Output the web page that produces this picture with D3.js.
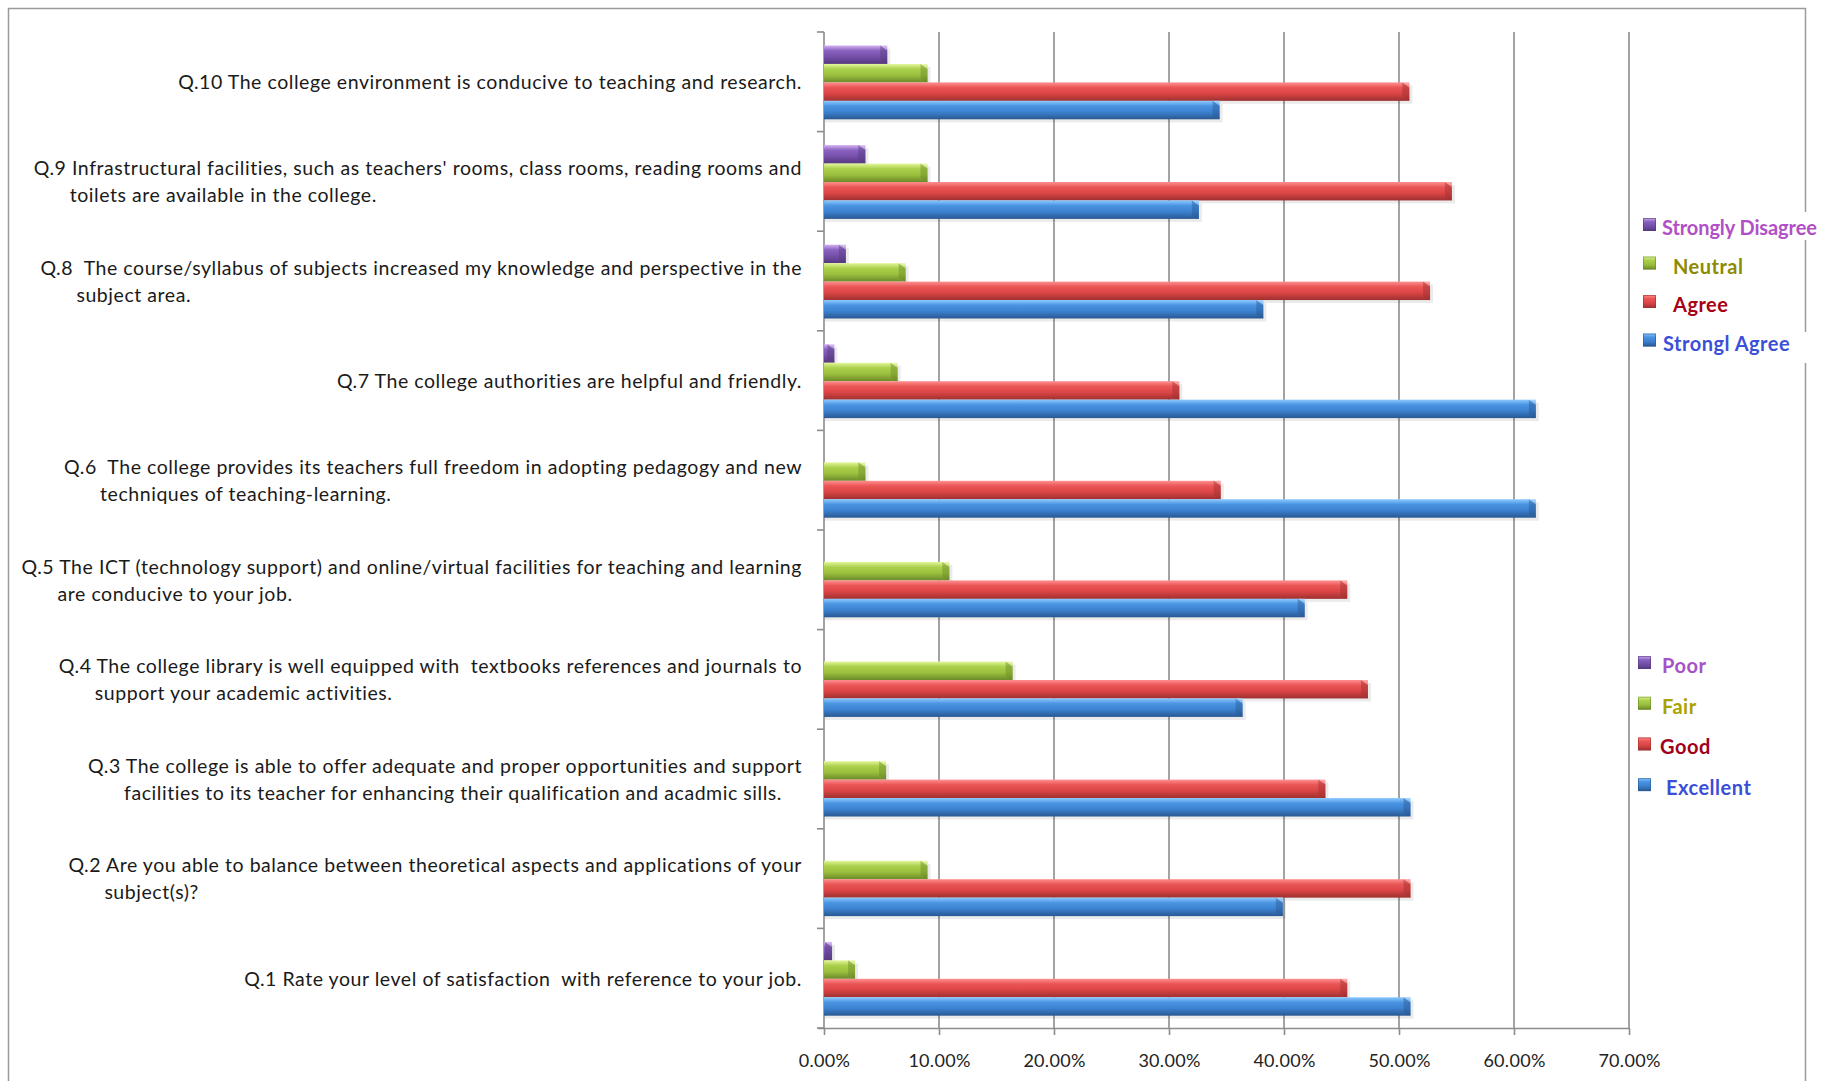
<!DOCTYPE html>
<html><head><meta charset="utf-8">
<script src="https://cdn.jsdelivr.net/npm/d3@7"></script>
<style>body{margin:0;background:#fff} svg{display:block}</style>
</head><body>
<svg id="chart" width="1822" height="1081"></svg>
<script>
// ---------- data ----------
const questions = [
  "Q.1 Rate your level of satisfaction  with reference to your job.",
  "Q.2 Are you able to balance between theoretical aspects and applications of your|subject(s)?",
  "Q.3 The college is able to offer adequate and proper opportunities and support|facilities to its teacher for enhancing their qualification and acadmic sills.",
  "Q.4 The college library is well equipped with  textbooks references and journals to|support your academic activities.",
  "Q.5 The ICT (technology support) and online/virtual facilities for teaching and learning|are conducive to your job.",
  "Q.6  The college provides its teachers full freedom in adopting pedagogy and new|techniques of teaching-learning.",
  "Q.7 The college authorities are helpful and friendly.",
  "Q.8  The course/syllabus of subjects increased my knowledge and perspective in the|subject area.",
  "Q.9 Infrastructural facilities, such as teachers' rooms, class rooms, reading rooms and|toilets are available in the college.",
  "Q.10 The college environment is conducive to teaching and research."
];
const seriesNames = ["Strongly Disagree", "Neutral", "Agree", "Strongl Agree"];
const ratingNames = ["Poor", "Fair", "Good", "Excellent"];
const stronglyDisagree = [0.7, 0, 0, 0, 0, 0, 0.9, 1.9, 3.6, 5.5];
const neutral          = [2.7, 9.0, 5.4, 16.4, 10.9, 3.6, 6.4, 7.1, 9.0, 9.0];
const agree            = [45.5, 51.0, 43.6, 47.3, 45.5, 34.5, 30.9, 52.7, 54.6, 50.9];
const stronglyAgree    = [51.0, 39.9, 51.0, 36.4, 41.8, 61.9, 61.9, 38.2, 32.6, 34.4];
const xTicks = [0, 10, 20, 30, 40, 50, 60, 70];

// ---------- styles ----------
const seriesValues = [stronglyDisagree, neutral, agree, stronglyAgree];
const grad = [
  ["#d2b0f2", "#8a62c0", "#7650ab", "#55397e"],
  ["#e4f79a", "#aad04c", "#9cc03e", "#6b8a29"],
  ["#ff9090", "#ea5555", "#dc4545", "#9e3030"],
  ["#8ccaff", "#4a94e2", "#3c82d0", "#2a5892"]
];
const topLegendColors = ["#b150c6", "#8e8a00", "#a80014", "#3b4fd8"];
const botLegendColors = ["#a552c8", "#a9a200", "#a0001a", "#3a4ed8"];

const svg = d3.select("#chart");
svg.append("rect").attr("width", 1822).attr("height", 1081).attr("fill", "#fff");

const defs = svg.append("defs");
grad.forEach((g, i) => {
  const lg = defs.append("linearGradient").attr("id", "g" + i)
    .attr("x1", 0).attr("y1", 0).attr("x2", 0).attr("y2", 1);
  lg.append("stop").attr("offset", "0%").attr("stop-color", g[0]);
  lg.append("stop").attr("offset", "28%").attr("stop-color", g[1]);
  lg.append("stop").attr("offset", "60%").attr("stop-color", g[2]);
  lg.append("stop").attr("offset", "100%").attr("stop-color", g[3]);
});

// outer chart border
svg.append("rect").attr("x", 8.5).attr("y", 8.5).attr("width", 1797).attr("height", 1110)
  .attr("fill", "none").attr("stroke", "#9a9a9a").attr("stroke-width", 1.5);

// ---------- scales ----------
const x = d3.scaleLinear().domain([0, 70]).range([824, 1629]);
const ids = questions.map((q, i) => i);
const y = d3.scaleBand().domain(ids.slice().reverse()).range([32, 1028]);
const inner = d3.scaleBand().domain(seriesNames)
  .range([13.5, y.bandwidth() - 12.3]);

// gridlines
svg.append("g").selectAll("line").data(xTicks.filter(t => t > 0)).join("line")
  .attr("x1", d => x(d)).attr("x2", d => x(d))
  .attr("y1", 32).attr("y2", 1028)
  .attr("stroke", "#8c8c8c").attr("stroke-width", 1.6);

// bottom axis
const xAxis = d3.axisBottom(x).tickValues(xTicks).tickSize(7)
  .tickFormat(d => d.toFixed(2) + "%");
const gx = svg.append("g").attr("transform", "translate(0,1028)").call(xAxis);
gx.select(".domain").attr("d", `M818,0.5H${x(70)}`).attr("stroke", "#8c8c8c").attr("stroke-width", 1.6);
gx.selectAll(".tick line").attr("stroke", "#8c8c8c").attr("stroke-width", 1.6);
gx.selectAll(".tick text").attr("y", 33).attr("dy", "0.35em")
  .attr("font-family", "Lato, 'Open Sans', sans-serif").attr("font-size", 18)
  .attr("letter-spacing", 0.3).attr("fill", "#222");

// left axis
const bounds = y.domain().map(d => y(d)).concat([y.range()[1]]);
svg.append("line").attr("x1", 824).attr("x2", 824).attr("y1", 32).attr("y2", 1028)
  .attr("stroke", "#8c8c8c").attr("stroke-width", 1.6);
svg.append("g").selectAll("line").data(bounds).join("line")
  .attr("x1", 817).attr("x2", 824).attr("y1", d => d).attr("y2", d => d)
  .attr("stroke", "#8c8c8c").attr("stroke-width", 1.6);

// ---------- bars ----------
const barData = [];
ids.forEach(qi => seriesNames.forEach((s, si) => {
  const v = seriesValues[si][qi];
  if (v > 0) barData.push({ qi, si, s, v });
}));
const bars = svg.append("g");
bars.selectAll("rect.shadow").data(barData).join("rect").attr("class", "shadow")
  .attr("x", x(0) + 1).attr("y", d => y(d.qi) + inner(d.s) + 3)
  .attr("width", d => x(d.v) - x(0) + 2).attr("height", inner.bandwidth())
  .attr("fill", "#000").attr("opacity", 0.08);
bars.selectAll("rect.bar").data(barData).join("rect").attr("class", "bar")
  .attr("x", x(0)).attr("y", d => y(d.qi) + inner(d.s))
  .attr("width", d => x(d.v) - x(0)).attr("height", inner.bandwidth())
  .attr("fill", d => `url(#g${d.si})`);
// bevelled ends
bars.selectAll("path.cap").data(barData).join("path").attr("class", "cap")
  .attr("d", d => {
    const x1 = x(d.v), x0 = Math.max(x(0), x1 - 7);
    const t = y(d.qi) + inner(d.s), b = t + inner.bandwidth();
    return `M${x0},${t}L${x1},${t + 5}L${x1},${b}L${x0},${b - 4}Z`;
  })
  .attr("fill", d => grad[d.si][3]).attr("opacity", 0.45);
bars.selectAll("path.hl").data(barData).join("path").attr("class", "hl")
  .attr("d", d => {
    const x1 = x(d.v), x0 = Math.max(x(0), x1 - 7);
    const t = y(d.qi) + inner(d.s);
    return `M${x0},${t}L${x1},${t}L${x1},${t + 5}Z`;
  })
  .attr("fill", "#fff").attr("opacity", 0.25);

// ---------- category labels ----------
const labelFont = "Lato, 'Open Sans', sans-serif";
const lg = svg.append("g").attr("font-family", labelFont).attr("font-size", 19.5)
  .attr("letter-spacing", 0.55).attr("fill", "#1a1a1a");
ids.forEach(qi => {
  const lines = questions[qi].split("|");
  const cy = y(qi) + y.bandwidth() / 2 + 0.5;
  if (lines.length === 1) {
    lg.append("text").attr("x", 802).attr("y", cy).attr("dy", "0.35em")
      .attr("text-anchor", "end").style("white-space", "pre").text(lines[0]);
  } else {
    const t1 = lg.append("text").attr("x", 802).attr("y", cy - 13.5).attr("dy", "0.35em")
      .attr("text-anchor", "end").style("white-space", "pre").text(lines[0]);
    const w = t1.node().getComputedTextLength();
    lg.append("text").attr("x", 802 - w + 36).attr("y", cy + 13.5).attr("dy", "0.35em")
      .style("white-space", "pre").text(lines[1]);
  }
});

// ---------- legends ----------
// white legend backgrounds that interrupt the border line
[[212, 240], [332, 363]].forEach(r =>
  svg.append("rect").attr("x", 1799).attr("y", r[0]).attr("width", 12).attr("height", r[1] - r[0]).attr("fill", "#fff"));

function legend(names, colors, markerX, textXs, y0, step) {
  const g = svg.append("g").attr("font-family", labelFont).attr("font-weight", 700)
    .attr("font-size", 20).attr("letter-spacing", 0.5);
  names.forEach((n, i) => {
    const cy = y0 + i * step;
    g.append("rect").attr("x", markerX).attr("y", cy - 10).attr("width", 13).attr("height", 13)
      .attr("fill", `url(#g${i})`);
    g.append("rect").attr("x", markerX + 0.5).attr("y", cy - 9.5).attr("width", 12).attr("height", 12)
      .attr("fill", "none").attr("stroke", grad[i][3]).attr("stroke-width", 1).attr("opacity", 0.6);
    const t = g.append("text").attr("x", textXs[i]).attr("y", cy).attr("dy", "0.35em")
      .attr("fill", colors[i]).text(n);
    // keep the text inside the picture
    let ls = 0.5;
    while (ls > -1 && textXs[i] + t.node().getComputedTextLength() > 1818) {
      ls -= 0.1;
      t.attr("letter-spacing", ls.toFixed(2));
    }
  });
}
legend(seriesNames, topLegendColors, 1643, [1662, 1673, 1673, 1663], 228, 38.5);
legend(ratingNames, botLegendColors, 1638, [1662, 1662, 1660, 1666], 666, 40.7);
</script>
</body></html>
